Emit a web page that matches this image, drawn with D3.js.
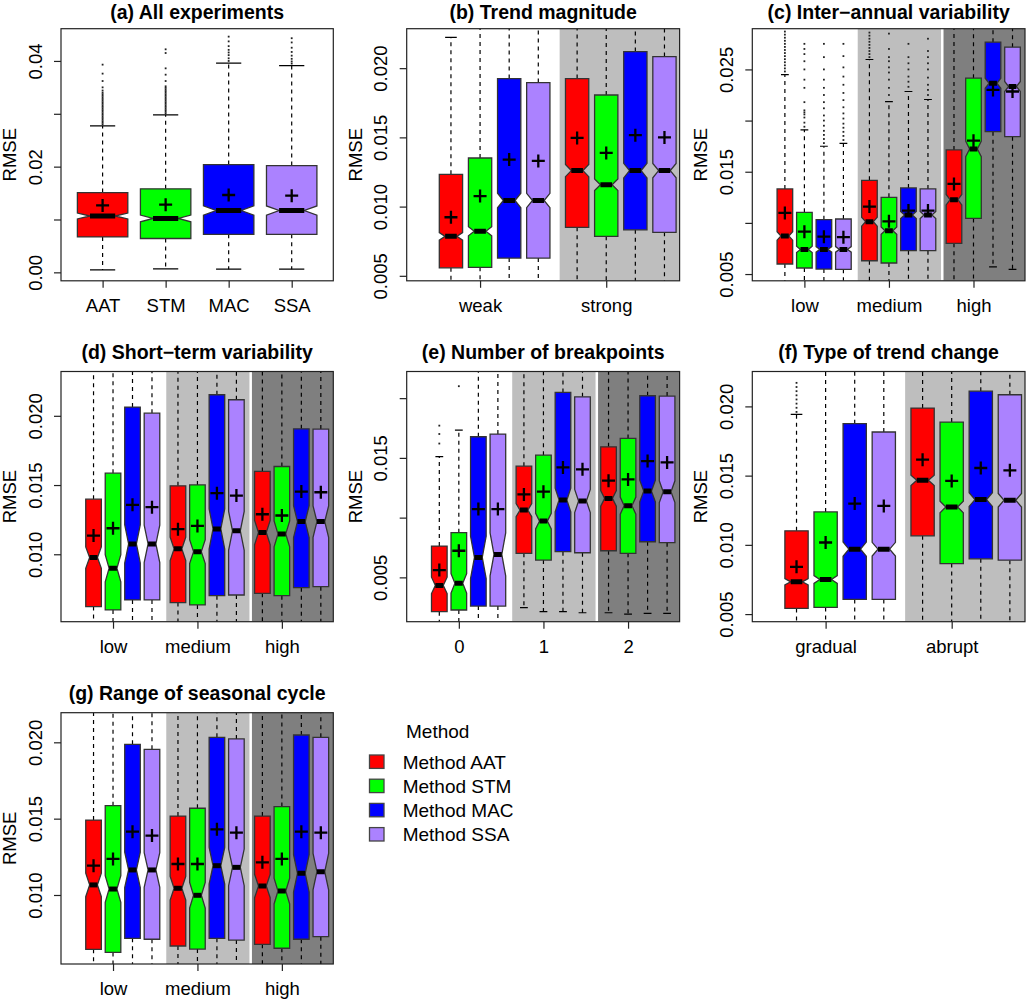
<!DOCTYPE html>
<html>
<head>
<meta charset="utf-8">
<script src="https://cdnjs.cloudflare.com/ajax/libs/d3/7.8.5/d3.min.js"></script>
<style>
  body { margin: 0; background: #fff; }
  text { font-family: "Liberation Sans", Arial, sans-serif; fill: #000; }
</style>
</head>
<body>
<svg id="chart" width="1026" height="1000"></svg>
<script>
// methods and colours
var methods = ['AAT', 'STM', 'MAC', 'SSA'];
var methodColors = ['#ff0000', '#00ff00', '#0000ff', '#ab82ff'];
var legendLabels = ['Method AAT', 'Method STM', 'Method MAC', 'Method SSA'];
var shadeColors = [null, '#bebebe', '#7f7f7f'];

// box rows: [lower whisker, Q1, median, Q3, upper whisker, mean]
// (a) all experiments
var groupsA = ['AAT', 'STM', 'MAC', 'SSA'];
var statsA = [
  [0.00045, 0.0067, 0.01066, 0.0151, 0.0277, 0.01266],
  [0.00064, 0.0064, 0.0102, 0.0158, 0.0298, 0.0128],
  [0.0006, 0.0072, 0.0117, 0.0204, 0.0396, 0.01463],
  [0.0006, 0.0072, 0.0117, 0.0202, 0.0391, 0.0145]
];
var outA = [
  [0.0280, 0.0283, 0.0286, 0.0289, 0.0292, 0.0295, 0.0298, 0.0301, 0.0304, 0.0307, 0.0310, 0.0313, 0.0316, 0.0319, 0.0322, 0.0325, 0.0328, 0.0331, 0.0334, 0.0337, 0.0340, 0.0344, 0.0350, 0.0362, 0.0376, 0.0393],
  [0.0301, 0.0304, 0.0307, 0.0310, 0.0313, 0.0316, 0.0319, 0.0322, 0.0325, 0.0328, 0.0331, 0.0334, 0.0337, 0.0340, 0.0343, 0.0346, 0.0349, 0.0352, 0.0362, 0.0374, 0.0386, 0.0415, 0.0422],
  [0.0400, 0.0405, 0.0411, 0.0416, 0.0421, 0.0428, 0.0437, 0.0446],
  [0.0395, 0.0399, 0.0404, 0.0410, 0.0417, 0.0425, 0.0435, 0.0443]
];
var yDomainA = [-0.0016, 0.0461];
var yTicksA = [0, 0.01, 0.02, 0.03, 0.04];
var yLabelsA = ['0.00', '', '0.02', '', '0.04'];
var notchNA = [560];

// (b) trend magnitude
var groupsB = ['weak', 'strong'];
var statsB = [
  [0.0030, 0.00558, 0.00785, 0.01233, 0.02222, 0.00923],
  [0.0030, 0.00561, 0.00822, 0.01351, 0.0240, 0.01076],
  [0.0030, 0.00628, 0.01044, 0.01925, 0.0330, 0.0134],
  [0.0030, 0.00628, 0.01044, 0.01896, 0.0325, 0.0133],
  [0.0020, 0.0085, 0.0126, 0.01925, 0.0350, 0.01496],
  [0.0020, 0.00785, 0.01158, 0.01806, 0.0340, 0.01388],
  [0.0015, 0.00832, 0.0126, 0.0212, 0.0400, 0.01516],
  [0.0015, 0.00814, 0.0126, 0.02084, 0.0395, 0.0150]
];
var yDomainB = [0.00464, 0.02285];
var yTicksB = [0.005, 0.010, 0.015, 0.020];
var yLabelsB = ['0.005', '0.010', '0.015', '0.020'];
var notchNB = [1500, 1500];

// (c) inter-annual variability
var groupsC = ['low', 'medium', 'high'];
var statsC = [
  [0.0030, 0.00598, 0.00872, 0.01332, 0.0245, 0.01097],
  [0.0035, 0.00559, 0.00741, 0.01103, 0.0191, 0.00914],
  [0.0035, 0.00549, 0.00741, 0.01031, 0.01749, 0.00865],
  [0.0035, 0.00546, 0.00741, 0.01038, 0.01778, 0.0086],
  [0.0030, 0.0063, 0.01012, 0.01416, 0.02597, 0.01159],
  [0.0030, 0.00608, 0.00924, 0.0125, 0.02186, 0.01015],
  [0.0030, 0.00728, 0.01077, 0.01342, 0.02284, 0.0112],
  [0.0030, 0.00728, 0.01077, 0.01332, 0.02206, 0.0112],
  [0.0020, 0.0080, 0.01227, 0.01713, 0.0320, 0.01381],
  [0.0020, 0.01044, 0.01723, 0.02414, 0.0340, 0.01804],
  [0.00571, 0.01892, 0.02365, 0.02766, 0.0340, 0.0230],
  [0.00545, 0.01843, 0.02333, 0.02717, 0.0340, 0.02284]
];
var outC = [
  [0.0248, 0.0251, 0.0254, 0.0257, 0.0260, 0.0263, 0.0266, 0.0269, 0.0272, 0.0275, 0.0278, 0.0281, 0.0284, 0.0287],
  [0.0194, 0.0198, 0.0203, 0.0206, 0.0208, 0.0210, 0.0218, 0.0232, 0.0240, 0.0250, 0.0258, 0.0265, 0.0270, 0.0275],
  [0.0178, 0.0182, 0.0186, 0.0190, 0.0195, 0.0200, 0.0205, 0.0212, 0.0218, 0.0225, 0.0232, 0.0240, 0.0250, 0.0262, 0.0275],
  [0.0181, 0.0185, 0.0189, 0.0193, 0.0197, 0.0202, 0.0207, 0.0213, 0.0220, 0.0227, 0.0235, 0.0243, 0.0252, 0.0263, 0.0275],
  [0.0262, 0.0265, 0.0268, 0.0271, 0.0274, 0.0277, 0.0280, 0.0283, 0.0286],
  [0.0225, 0.0232, 0.0240, 0.0247, 0.0252, 0.0258, 0.0262, 0.0270, 0.0285],
  [0.0233, 0.0238, 0.0243, 0.0250, 0.0256, 0.0262, 0.0275],
  [0.0225, 0.0230, 0.0235, 0.0242, 0.0250, 0.0256, 0.0262, 0.0268, 0.0280],
  [], [], [], []
];
var yDomainC = [0.00434, 0.02898];
var yTicksC = [0.005, 0.010, 0.015, 0.020, 0.025];
var yLabelsC = ['0.005', '', '0.015', '', '0.025'];
var notchNC = [800, 800, 800];

// (d) short-term variability
var groupsD = ['low', 'medium', 'high'];
var statsD = [
  [0.0030, 0.00622, 0.00976, 0.01398, 0.0300, 0.01135],
  [0.0030, 0.00598, 0.00899, 0.01586, 0.0300, 0.01188],
  [0.0030, 0.0067, 0.01075, 0.02063, 0.0350, 0.01357],
  [0.0030, 0.0067, 0.01075, 0.02019, 0.0350, 0.0134],
  [0.0030, 0.00651, 0.01039, 0.01494, 0.0300, 0.01181],
  [0.0030, 0.00634, 0.01019, 0.01501, 0.0300, 0.01205],
  [0.0030, 0.00701, 0.01183, 0.02152, 0.0350, 0.01441],
  [0.0030, 0.00706, 0.01169, 0.02116, 0.0350, 0.01424],
  [0.0030, 0.00718, 0.01157, 0.01598, 0.0300, 0.01289],
  [0.0030, 0.00701, 0.01147, 0.01634, 0.0300, 0.0128],
  [0.0030, 0.00759, 0.01236, 0.01906, 0.0350, 0.01453],
  [0.0030, 0.00766, 0.01236, 0.01904, 0.0350, 0.01448]
];
var yDomainD = [0.00513, 0.0232];
var yTicksD = [0.010, 0.015, 0.020];
var yLabelsD = ['0.010', '0.015', '0.020'];
var notchND = [250, 250, 250];

// (e) number of breakpoints
var groupsE = ['0', '1', '2'];
var statsE = [
  [0.0005, 0.00213, 0.00433, 0.00762, 0.0151, 0.00561],
  [0.0005, 0.00227, 0.0045, 0.00874, 0.01733, 0.00723],
  [0.0008, 0.0026, 0.00667, 0.01677, 0.0300, 0.01072],
  [0.0008, 0.0026, 0.00692, 0.01699, 0.0300, 0.01072],
  [0.00246, 0.00701, 0.01063, 0.01431, 0.0300, 0.01194],
  [0.00213, 0.00645, 0.00971, 0.01523, 0.0300, 0.01217],
  [0.00213, 0.00715, 0.01147, 0.02048, 0.0350, 0.0142],
  [0.00204, 0.00706, 0.01139, 0.02011, 0.0350, 0.01404],
  [0.00204, 0.00723, 0.01161, 0.01593, 0.0300, 0.01309],
  [0.00193, 0.00701, 0.0110, 0.01663, 0.0300, 0.0132],
  [0.00199, 0.00798, 0.01222, 0.0202, 0.0350, 0.01473],
  [0.00199, 0.0079, 0.01217, 0.02017, 0.0350, 0.01462]
];
var outE = [
  [0.0162, 0.0170, 0.0177],
  [0.0210],
  [], [], [], [], [], [], [], [], [], []
];
var yDomainE = [0.00129, 0.02223];
var yTicksE = [0.005, 0.010, 0.015, 0.020];
var yLabelsE = ['0.005', '', '0.015', ''];
var notchNE = [160, 450, 450];

// (f) type of trend change
var groupsF = ['gradual', 'abrupt'];
var statsF = [
  [0.0020, 0.00541, 0.00733, 0.01101, 0.01942, 0.00841],
  [0.0020, 0.00548, 0.0075, 0.01238, 0.0280, 0.01017],
  [0.0020, 0.00606, 0.00969, 0.01875, 0.0330, 0.01298],
  [0.0020, 0.00606, 0.00969, 0.01815, 0.0320, 0.01281],
  [0.0020, 0.01065, 0.01466, 0.01988, 0.0350, 0.01615],
  [0.0020, 0.00865, 0.01274, 0.01887, 0.0340, 0.01462],
  [0.0020, 0.00899, 0.01327, 0.0211, 0.0380, 0.01555],
  [0.0020, 0.00889, 0.01322, 0.02084, 0.0380, 0.01538]
];
var outF = [
  [0.0196, 0.0199, 0.0202, 0.0205, 0.0208, 0.0211, 0.0214, 0.0217],
  [], [], [], [], [], [], []
];
var yDomainF = [0.00445, 0.02252];
var yTicksF = [0.005, 0.010, 0.015, 0.020];
var yLabelsF = ['0.005', '0.010', '0.015', '0.020'];
var notchNF = [1500, 1500];

// (g) range of seasonal cycle
var groupsG = ['low', 'medium', 'high'];
var statsG = [
  [0.0030, 0.00644, 0.01066, 0.01491, 0.0300, 0.01192],
  [0.0030, 0.00624, 0.01039, 0.01585, 0.0300, 0.01236],
  [0.0030, 0.00716, 0.01164, 0.01987, 0.0350, 0.01415],
  [0.0030, 0.0071, 0.01164, 0.01954, 0.0350, 0.01389],
  [0.0030, 0.00666, 0.01044, 0.01517, 0.0300, 0.01203],
  [0.0030, 0.00646, 0.00998, 0.01568, 0.0300, 0.01203],
  [0.0030, 0.00716, 0.01192, 0.02033, 0.0350, 0.0143],
  [0.0030, 0.00705, 0.01181, 0.02022, 0.0350, 0.01408],
  [0.0030, 0.00677, 0.01059, 0.01517, 0.0300, 0.01214],
  [0.0030, 0.00651, 0.01026, 0.01579, 0.0300, 0.01236],
  [0.0030, 0.0071, 0.01142, 0.02048, 0.0350, 0.01415],
  [0.0030, 0.00727, 0.01153, 0.02033, 0.0350, 0.01408]
];
var yDomainG = [0.00548, 0.02194];
var yTicksG = [0.010, 0.015, 0.020];
var yLabelsG = ['0.010', '0.015', '0.020'];
var notchNG = [300, 300, 300];

var svg = d3.select('#chart');
var fontSize = 18.5;
var rows = [[28.7, 280.8], [371.5, 621.7], [712.7, 964]];
var cols = [[61, 333.3], [406.7, 679.6], [752.3, 1025]];
var groupGap = 1 / 3;

var panels = [
  {id: 'a', title: '(a) All experiments', row: 0, col: 0, stats: statsA, out: outA, groups: groupsA, single: true, yDomain: yDomainA, yTicks: yTicksA, yLabels: yLabelsA, notchN: notchNA},
  {id: 'b', title: '(b) Trend magnitude', row: 0, col: 1, stats: statsB, out: null, groups: groupsB, xPad: [1.52, 0.52], yDomain: yDomainB, yTicks: yTicksB, yLabels: yLabelsB, notchN: notchNB},
  {id: 'c', title: '(c) Inter\u2212annual variability', row: 0, col: 2, stats: statsC, out: outC, groups: groupsC, xPad: [1.67, 0.64], yDomain: yDomainC, yTicks: yTicksC, yLabels: yLabelsC, notchN: notchNC},
  {id: 'd', title: '(d) Short\u2212term variability', row: 1, col: 0, stats: statsD, out: null, groups: groupsD, xPad: [1.67, 0.64], yDomain: yDomainD, yTicks: yTicksD, yLabels: yLabelsD, notchN: notchND},
  {id: 'e', title: '(e) Number of breakpoints', row: 1, col: 1, stats: statsE, out: outE, groups: groupsE, xPad: [1.67, 0.64], yDomain: yDomainE, yTicks: yTicksE, yLabels: yLabelsE, notchN: notchNE},
  {id: 'f', title: '(f) Type of trend change', row: 1, col: 2, stats: statsF, out: outF, groups: groupsF, xPad: [1.52, 0.52], yDomain: yDomainF, yTicks: yTicksF, yLabels: yLabelsF, notchN: notchNF},
  {id: 'g', title: '(g) Range of seasonal cycle', row: 2, col: 0, stats: statsG, out: null, groups: groupsG, xPad: [1.67, 0.64], yDomain: yDomainG, yTicks: yTicksG, yLabels: yLabelsG, notchN: notchNG}
];

panels.forEach(drawPanel);
drawLegend();

function drawPanel(p) {
  var L = cols[p.col][0], R = cols[p.col][1];
  var T = rows[p.row][0], B = rows[p.row][1];
  var n = p.stats.length;

  // box positions: 4 boxes per group, a small gap between groups
  var pos = p.stats.map(function(d, i) {
    return p.single ? i + 1 : 1 + i + Math.floor(i / 4) * groupGap;
  });
  var groupOf = function(i) { return p.single ? 0 : Math.floor(i / 4); };
  var xMin = p.single ? 0.34 : 1 - p.xPad[0];
  var xMax = p.single ? 4.66 : pos[n - 1] + p.xPad[1];

  var x = d3.scaleLinear().domain([xMin, xMax]).range([L, R]);
  var y = d3.scaleLinear().domain(p.yDomain).range([B, T]);

  var g = svg.append('g').attr('class', 'panel panel-' + p.id);

  g.append('clipPath').attr('id', 'clip-' + p.id)
    .append('rect')
    .attr('x', L).attr('y', T)
    .attr('width', R - L).attr('height', B - T);

  var plot = g.append('g').attr('clip-path', 'url(#clip-' + p.id + ')');

  // background shading for groups
  if (!p.single) {
    p.groups.forEach(function(name, gi) {
      if (gi === 0) return;
      var x0 = pos[gi * 4] - 0.6;
      var x1 = gi < p.groups.length - 1 ? pos[(gi + 1) * 4] - 0.6 : xMax;
      plot.append('rect')
        .attr('x', x(x0)).attr('y', T)
        .attr('width', x(x1) - x(x0)).attr('height', B - T)
        .attr('fill', shadeColors[gi]);
      if (gi >= 2) {
        plot.append('line')
          .attr('x1', x(x0)).attr('x2', x(x0))
          .attr('y1', T).attr('y2', B)
          .attr('stroke', '#fff').attr('stroke-width', 2.5);
      }
    });
  }

  var boxes = plot.selectAll('.box')
    .data(p.stats)
    .enter().append('g')
    .attr('class', 'box');

  // whiskers
  boxes.append('line')
    .attr('x1', function(d, i) { return x(pos[i]); })
    .attr('x2', function(d, i) { return x(pos[i]); })
    .attr('y1', function(d) { return y(d[3]); })
    .attr('y2', function(d) { return y(d[4]); })
    .attr('stroke', '#000').attr('stroke-width', 1.2)
    .attr('stroke-dasharray', '4,4');
  boxes.append('line')
    .attr('x1', function(d, i) { return x(pos[i]); })
    .attr('x2', function(d, i) { return x(pos[i]); })
    .attr('y1', function(d) { return y(d[1]); })
    .attr('y2', function(d) { return y(d[0]); })
    .attr('stroke', '#000').attr('stroke-width', 1.2)
    .attr('stroke-dasharray', '4,4');
  // staples
  [0, 4].forEach(function(k) {
    boxes.append('line')
      .attr('x1', function(d, i) { return x(pos[i] - 0.2); })
      .attr('x2', function(d, i) { return x(pos[i] + 0.2); })
      .attr('y1', function(d) { return y(d[k]); })
      .attr('y2', function(d) { return y(d[k]); })
      .attr('stroke', '#000').attr('stroke-width', 1.2);
  });

  // notched boxes
  boxes.append('path')
    .attr('d', function(d, i) {
      var c = pos[i];
      var nt = 1.58 * (d[3] - d[1]) / Math.sqrt(p.notchN[groupOf(i)]);
      var xa = x(c - 0.4), xb = x(c + 0.4), xna = x(c - 0.2), xnb = x(c + 0.2);
      return 'M' + xa + ',' + y(d[1]) +
        'L' + xa + ',' + y(d[2] - nt) +
        'L' + xna + ',' + y(d[2]) +
        'L' + xa + ',' + y(d[2] + nt) +
        'L' + xa + ',' + y(d[3]) +
        'L' + xb + ',' + y(d[3]) +
        'L' + xb + ',' + y(d[2] + nt) +
        'L' + xnb + ',' + y(d[2]) +
        'L' + xb + ',' + y(d[2] - nt) +
        'L' + xb + ',' + y(d[1]) + 'Z';
    })
    .attr('fill', function(d, i) { return methodColors[i % 4]; })
    .attr('stroke', '#333').attr('stroke-width', 1.3);

  // medians
  boxes.append('line')
    .attr('x1', function(d, i) { return x(pos[i] - 0.2); })
    .attr('x2', function(d, i) { return x(pos[i] + 0.2); })
    .attr('y1', function(d) { return y(d[2]); })
    .attr('y2', function(d) { return y(d[2]); })
    .attr('stroke', '#000').attr('stroke-width', 5);

  // means
  boxes.append('path')
    .attr('d', function(d, i) {
      var cx = x(pos[i]), cy = y(d[5]), s = 6.5;
      return 'M' + (cx - s) + ',' + cy + 'H' + (cx + s) + 'M' + cx + ',' + (cy - s) + 'V' + (cy + s);
    })
    .attr('stroke', '#000').attr('stroke-width', 2.3).attr('fill', 'none');

  // outliers
  if (p.out) {
    p.out.forEach(function(vals, i) {
      plot.selectAll(null)
        .data(vals)
        .enter().append('rect')
        .attr('x', x(pos[i]) - 0.9)
        .attr('y', function(v) { return y(v) - 0.9; })
        .attr('width', 1.8).attr('height', 1.8)
        .attr('fill', '#222');
    });
  }

  // frame
  g.append('rect')
    .attr('x', L).attr('y', T)
    .attr('width', R - L).attr('height', B - T)
    .attr('fill', 'none').attr('stroke', '#222').attr('stroke-width', 1.2);

  // y axis
  var yAxis = g.append('g')
    .attr('transform', 'translate(' + L + ',0)')
    .call(d3.axisLeft(y).tickValues(p.yTicks)
      .tickFormat(function(d, i) { return p.yLabels[i]; })
      .tickSize(7));
  yAxis.select('.domain').remove();
  yAxis.selectAll('.tick line').attr('stroke', '#222').attr('stroke-width', 1.2);
  yAxis.selectAll('.tick text')
    .attr('font-size', fontSize).attr('font-family', null)
    .attr('transform', 'rotate(-90)')
    .attr('text-anchor', 'middle')
    .attr('x', 0).attr('y', -19.3).attr('dy', 0);

  // x axis (one tick per group, on the second box)
  var xTickPos = p.groups.map(function(name, gi) { return p.single ? pos[gi] : pos[gi * 4 + 1]; });
  var xAxis = g.append('g')
    .attr('transform', 'translate(0,' + B + ')')
    .call(d3.axisBottom(x).tickValues(xTickPos)
      .tickFormat(function(d, i) { return p.groups[i]; })
      .tickSize(7));
  xAxis.select('.domain').remove();
  xAxis.selectAll('.tick line').attr('stroke', '#222').attr('stroke-width', 1.2);
  xAxis.selectAll('.tick text')
    .attr('font-size', fontSize).attr('font-family', null)
    .attr('y', 31).attr('dy', 0);

  // y label
  g.append('text')
    .attr('transform', 'translate(' + (L - 45) + ',' + ((T + B) / 2) + ') rotate(-90)')
    .attr('text-anchor', 'middle')
    .attr('font-size', fontSize)
    .text('RMSE');

  // title (kept inside the page at the top row)
  g.append('text')
    .attr('x', (L + R) / 2).attr('y', Math.max(T - 12.5, 18.5))
    .attr('text-anchor', 'middle')
    .attr('font-size', 19.5).attr('font-weight', 'bold')
    .text(p.title);
}

function drawLegend() {
  var lg = svg.append('g').attr('class', 'legend');
  lg.append('text')
    .attr('x', 406).attr('y', 737.5)
    .attr('font-size', 19)
    .text('Method');
  var item = lg.selectAll('.item')
    .data(legendLabels)
    .enter().append('g')
    .attr('class', 'item')
    .attr('transform', function(d, i) { return 'translate(0,' + (761.7 + i * 24.2) + ')'; });
  item.append('rect')
    .attr('x', 369.5).attr('y', -6.7)
    .attr('width', 14.5).attr('height', 13.4)
    .attr('fill', function(d, i) { return methodColors[i]; })
    .attr('stroke', '#444').attr('stroke-width', 1.3);
  item.append('text')
    .attr('x', 402.7).attr('y', 6.8)
    .attr('font-size', 19)
    .text(function(d) { return d; });
}
</script>
</body>
</html>
